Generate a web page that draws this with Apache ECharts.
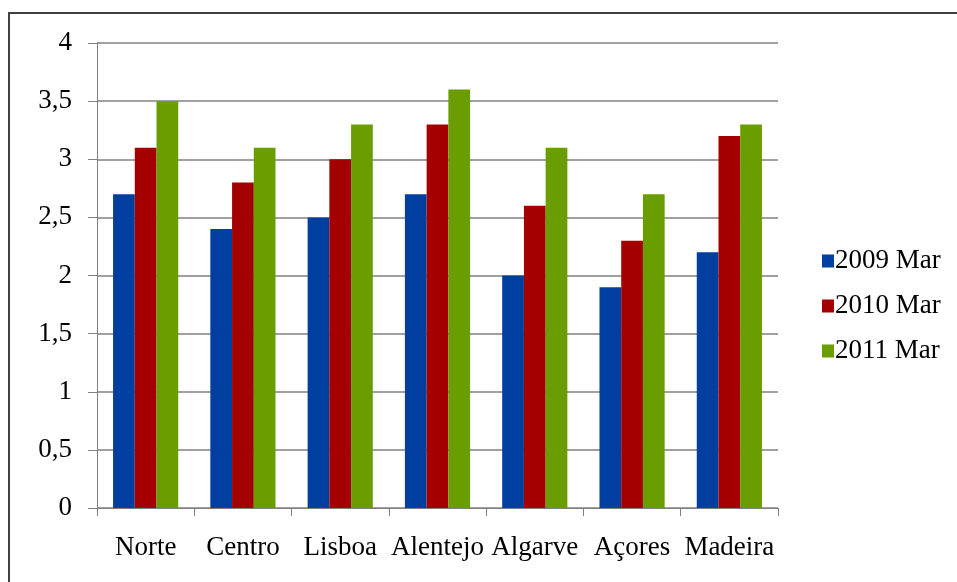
<!DOCTYPE html>
<html><head><meta charset="utf-8">
<script src="https://cdn.jsdelivr.net/npm/echarts@6/dist/echarts.min.js"></script>
<style>html,body{margin:0;padding:0;background:#fff}#c{width:957px;height:582px}</style>
</head><body><div id="c"></div>
<script>
const categories = ['Norte','Centro','Lisboa','Alentejo','Algarve','Açores','Madeira'];
const s2009 = [2.7, 2.4, 2.5, 2.7, 2.0, 1.9, 2.2];
const s2010 = [3.1, 2.8, 3.0, 3.3, 2.6, 2.3, 3.2];
const s2011 = [3.5, 3.1, 3.3, 3.6, 3.1, 2.7, 3.3];
const seriesNames = ['2009 Mar','2010 Mar','2011 Mar'];
const yTicks = ['0','0,5','1','1,5','2','2,5','3','3,5','4'];

const font = '"Liberation Serif","Times New Roman",serif';
const colors = ['#003f9f','#a50000','#6a9e00'];
const chart = echarts.init(document.getElementById('c'));
const mk = (name, data, i) => ({
  name, type: 'bar', data, barGap: '0%', barCategoryGap: '33%',
  itemStyle: { color: colors[i] }, animation: false
});
chart.setOption({
  animation: false,
  color: colors,
  graphic: [{ type: 'rect', shape: { x: 9, y: 13, width: 960, height: 580 },
    style: { fill: 'none', stroke: '#404040', lineWidth: 2 }, silent: true }],
  grid: { left: 97, right: 179, top: 43, bottom: 74 },
  legend: {
    orient: 'vertical', left: 817, top: 242, itemGap: 17,
    itemWidth: 12, itemHeight: 13, icon: 'rect',
    textStyle: { fontFamily: font, fontSize: 27, lineHeight: 28, color: '#000', padding: [0,0,0,-4] },
    data: seriesNames
  },
  xAxis: {
    type: 'category', data: categories,
    axisLine: { lineStyle: { color: '#808080', width: 1 } },
    axisTick: { show: true, length: 8, lineStyle: { color: '#808080' } },
    axisLabel: { fontFamily: font, fontSize: 27, color: '#000', margin: 26, interval: 0 }
  },
  yAxis: {
    type: 'value', min: 0, max: 4, interval: 0.5,
    axisLine: { show: true, lineStyle: { color: '#808080' } },
    axisTick: { show: true, length: 9, lineStyle: { color: '#808080' } },
    splitLine: { lineStyle: { color: '#808080', width: 1.5 } },
    axisLabel: { fontFamily: font, fontSize: 27, color: '#000', margin: 25,
      formatter: v => yTicks[Math.round(v * 2)] }
  },
  series: [mk(seriesNames[0], s2009, 0), mk(seriesNames[1], s2010, 1), mk(seriesNames[2], s2011, 2)]
});
</script></body></html>
